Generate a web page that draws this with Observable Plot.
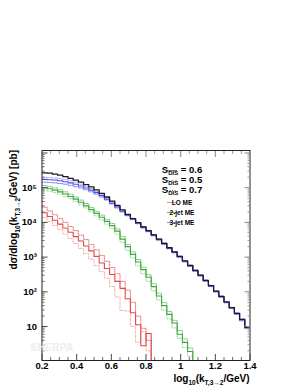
<!DOCTYPE html>
<html><head><meta charset="utf-8">
<script src="https://cdn.jsdelivr.net/npm/d3@7"></script>
<script src="https://cdn.jsdelivr.net/npm/@observablehq/plot@0.6"></script>
<style>body{margin:0;background:#fff} svg{font-family:"Liberation Sans",Arial,sans-serif}</style>
</head><body><div id="chart"></div>
<script>
// bin edges of log10(kT,3->2/GeV)
const binEdges = [0.20,0.23,0.26,0.29,0.32,0.35,0.38,0.41,0.44,0.47,0.50,0.53,0.56,0.59,0.62,0.65,0.68,0.71,0.74,0.77,0.80,0.83,0.86,0.89,0.92,0.95,0.98,1.01,1.04,1.07,1.10,1.13,1.16,1.19,1.22,1.25,1.28,1.31,1.34,1.37,1.40];

// total (S_DIS = 0.6), pb
const total = [2.69e5,2.63e5,2.45e5,2.29e5,2.09e5,1.86e5,1.66e5,1.45e5,1.23e5,1.05e5,8.7e4,6.9e4,5.4e4,4.1e4,3.1e4,2.3e4,1.7e4,1.29e4,9.8e3,7.4e3,5.8e3,4.4e3,3.3e3,2.5e3,1.86e3,1.41e3,1.05e3,780,575,417,302,214,151,105,74,51,35,24,16,9.5];

// 3-jet ME
const jet3_s06 = [1.74e5,1.70e5,1.66e5,1.58e5,1.48e5,1.38e5,1.26e5,1.12e5,9.8e4,8.5e4,7.2e4,5.9e4,4.7e4,3.6e4,2.8e4,2.1e4,1.62e4,1.26e4,9.5e3,7.2e3,5.6e3,4.3e3,3.2e3,2.45e3,1.82e3,1.38e3,1.02e3,760,560,407,295,209,148,102,72,50,34.7,23.4,15.5,9.3];
const jet3_s05 = [2.0e5,1.95e5,1.91e5,1.82e5,1.70e5,1.58e5,1.45e5,1.26e5,1.10e5,9.5e4,7.9e4,6.5e4,5.1e4,4.0e4,3.0e4,2.3e4,1.7e4,1.32e4,1.0e4,7.6e3,5.9e3,4.5e3,3.4e3,2.6e3,1.9e3,1.45e3,1.07e3,794,589,427,309,219,155,107,76,52,36,25,16.6,10];
const jet3_s07 = [1.45e5,1.41e5,1.38e5,1.32e5,1.26e5,1.17e5,1.07e5,9.8e4,8.7e4,7.6e4,6.5e4,5.4e4,4.4e4,3.4e4,2.6e4,2.0e4,1.55e4,1.2e4,9.1e3,6.9e3,5.4e3,4.1e3,3.1e3,2.3e3,1.74e3,1.32e3,980,724,537,389,282,200,141,98,69,48,33,22.4,14.5,8.7];

// 2-jet ME
const jet2_s06 = [1.0e5,9.3e4,8.5e4,7.6e4,6.6e4,5.6e4,4.7e4,3.8e4,3.0e4,2.34e4,1.82e4,1.41e4,1.07e4,8.1e3,5.6e3,3.3e3,2.0e3,1.2e3,724,437,263,141,76,40,22.4,12.6,6.0,3.5,1.9,0];
const jet2_s05 = [8.5e4,7.9e4,7.2e4,6.5e4,5.6e4,4.8e4,4.0e4,3.2e4,2.6e4,2.0e4,1.55e4,1.17e4,8.9e3,6.6e3,4.6e3,2.7e3,1.58e3,955,562,331,200,107,58,30,16.6,9.1,4.6,2.5,1.4,0];
const jet2_s07 = [1.15e5,1.07e5,9.8e4,8.7e4,7.6e4,6.5e4,5.4e4,4.4e4,3.5e4,2.7e4,2.1e4,1.62e4,1.23e4,9.3e3,6.5e3,3.9e3,2.3e3,1.41e3,851,513,309,170,91,49,27,15.1,7.6,4.4,2.4,0];

// LO ME
const lo_s06 = [1.9e4,1.48e4,1.15e4,8.9e3,6.9e3,5.2e3,3.9e3,2.9e3,2.1e3,1.51e3,1.05e3,676,468,316,200,126,63,25,11.2,2.8,6.3,0];
const lo_s05 = [1.38e4,1.07e4,8.1e3,6.2e3,4.6e3,3.4e3,2.45e3,1.78e3,1.26e3,871,575,380,251,141,71,29,28,10,3.5,7.1,2.0,0];
const lo_s07 = [2.75e4,2.14e4,1.66e4,1.29e4,1.0e4,7.6e3,5.8e3,4.3e3,3.2e3,2.3e3,1.62e3,1.12e3,759,501,331,200,112,50,20,8.9,4.0,0];

// ticks
const xTicks = [0.2,0.4,0.6,0.8,1.0,1.2,1.4];
const xTickLabels = ["0.2","0.4","0.6","0.8","1","1.2","1.4"];
const xMinorTicks = [0.25,0.3,0.35,0.45,0.5,0.55,0.65,0.7,0.75,0.85,0.9,0.95,1.05,1.1,1.15,1.25,1.3,1.35];
const yTicks = [10,100,1000,10000,100000,1000000];
const yTickLabels = ["10","10²","10³","10⁴","10⁵",""];
const yDecades = [1,10,100,1000,10000,100000];
const yMinorTicks = yDecades.flatMap(d => [2,3,4,5,6,7,8,9].map(m => m*d));

// legend
const legendText = [["S","DIS"," = 0.6"],["S","DIS"," = 0.5"],["S","DIS"," = 0.7"],["LO ME"],["2-jet ME"],["3-jet ME"]];

const EMPTY = 0.01; // empty bins fall below the frame and are clipped
function steps(vals) {
  const pts = vals.map((v, i) => ({x: binEdges[i], y: v > 0 ? v : EMPTY}));
  pts.push({x: binEdges[vals.length], y: pts[pts.length - 1].y});
  return pts;
}
function hist(vals, opts) {
  return Plot.line(steps(vals), {x: "x", y: "y", curve: "step-after", clip: true, ...opts});
}

const font = '"Liberation Sans", Arial, sans-serif';
const fmtX = d => xTickLabels[xTicks.findIndex(t => Math.abs(t - d) < 1e-9)];
const fmtY = d => { const i = yTicks.findIndex(t => Math.abs(t - d) / t < 1e-6); return i < 0 ? "" : yTickLabels[i]; };

const plot = Plot.plot({
  width: 300, height: 388,
  marginTop: 150, marginBottom: 28, marginLeft: 41.5, marginRight: 50.5,
  x: {domain: [0.2, 1.4]},
  y: {type: "log", domain: [1.05, 1.18e6]},
  style: {fontFamily: font, fontSize: "9.5px", fontWeight: "bold", color: "#000", background: "#fff"},
  marks: [
    // LO ME
    hist(lo_s05, {stroke: "#f6b4b4", strokeWidth: 1, strokeDasharray: "3,1.5"}),
    hist(lo_s07, {stroke: "#e67878", strokeWidth: 1, strokeDasharray: "1.2,1.2"}),
    hist(lo_s06, {stroke: "#e04848", strokeWidth: 1.1}),
    // 2-jet ME
    hist(jet2_s05, {stroke: "#a8dca8", strokeWidth: 1, strokeDasharray: "3,1.5"}),
    hist(jet2_s07, {stroke: "#78c478", strokeWidth: 1, strokeDasharray: "1.2,1.2"}),
    hist(jet2_s06, {stroke: "#3aa83a", strokeWidth: 1.1}),
    // 3-jet ME
    hist(jet3_s05, {stroke: "#a8a8ff", strokeWidth: 1, strokeDasharray: "3,1.5"}),
    hist(jet3_s07, {stroke: "#7878f0", strokeWidth: 1, strokeDasharray: "1.2,1.2"}),
    hist(jet3_s06, {stroke: "#5050e0", strokeWidth: 1.1}),
    // total
    hist(total, {stroke: "#1a1a2a", strokeWidth: 1.3}),
    Plot.frame({stroke: "#222", strokeWidth: 1}),
    Plot.axisX({anchor: "bottom", ticks: xTicks, tickSize: -6, tickPadding: 8, tickFormat: fmtX, label: null, stroke: "#444"}),
    Plot.axisX({anchor: "bottom", ticks: xMinorTicks, tickSize: -3, tickFormat: () => "", label: null, stroke: "#666"}),
    Plot.axisX({anchor: "top", ticks: xTicks, tickSize: -6, tickFormat: () => "", label: null, stroke: "#888"}),
    Plot.axisX({anchor: "top", ticks: xMinorTicks, tickSize: -3, tickFormat: () => "", label: null, stroke: "#999"}),
    Plot.axisY({anchor: "left", ticks: yTicks, tickSize: -6, tickPadding: 11, tickFormat: fmtY, label: null, stroke: "#444"}),
    Plot.axisY({anchor: "left", ticks: yMinorTicks, tickSize: -3, tickFormat: () => "", label: null, stroke: "#666"}),
    Plot.axisY({anchor: "right", ticks: yTicks, tickSize: -6, tickFormat: () => "", label: null, stroke: "#888"}),
    Plot.axisY({anchor: "right", ticks: yMinorTicks, tickSize: -3, tickFormat: () => "", label: null, stroke: "#999"})
  ]
});
document.getElementById("chart").appendChild(plot);

const svg = d3.select(plot);

// watermark
svg.append("text").attr("x", 52).attr("y", 351).attr("font-size", 10).attr("font-weight", "bold")
  .attr("fill", "#ececec").attr("letter-spacing", 0.4).text("SHERPA");

// x axis title
const xl = svg.append("text").attr("x", 249.5).attr("y", 382).attr("text-anchor", "end")
  .attr("font-size", 10).attr("font-weight", "bold").attr("fill", "#000");
xl.append("tspan").text("log");
xl.append("tspan").attr("dy", 2.5).attr("font-size", 6.5).text("10");
xl.append("tspan").attr("dy", -2.5).text("(k");
xl.append("tspan").attr("dy", 2.5).attr("font-size", 6.5).text("T,3\u21922");
xl.append("tspan").attr("dy", -2.5).text("/GeV)");

// y axis title
const yl = svg.append("text").attr("transform", "translate(17,150) rotate(-90)").attr("text-anchor", "end")
  .attr("font-size", 10).attr("font-weight", "bold").attr("fill", "#000");
yl.append("tspan").text("d\u03c3/dlog");
yl.append("tspan").attr("dy", 2.5).attr("font-size", 6.5).text("10");
yl.append("tspan").attr("dy", -2.5).text("(k");
yl.append("tspan").attr("dy", 2.5).attr("font-size", 6.5).text("T,3\u21922");
yl.append("tspan").attr("dy", -2.5).text("/GeV) [pb]");

// legend
const legendStyles = [
  {stroke: "#777", dash: null, w: 1},
  {stroke: "#bbb", dash: "2.5,1.5", w: 1},
  {stroke: "#555", dash: "1,1.5", w: 1},
  {stroke: "#f08888", dash: null, w: 1},
  {stroke: "#5cb85c", dash: null, w: 1},
  {stroke: "#8888ff", dash: null, w: 1}
];
const legendRowY = [170.5, 180.5, 190.5, 202.5, 212.5, 222.5];
legendText.forEach((t, i) => {
  const s = legendStyles[i], y = legendRowY[i];
  svg.append("line").attr("x1", 167).attr("x2", 177).attr("y1", y).attr("y2", y)
    .attr("stroke", s.stroke).attr("stroke-width", s.w).attr("stroke-dasharray", s.dash);
  const big = t.length === 3;
  const tx = svg.append("text").attr("x", 182).attr("y", y + (big ? 2.3 : 2.2))
    .attr("font-size", big ? 9.5 : 6.5).attr("font-weight", "bold").attr("fill", "#000");
  tx.append("tspan").text(t[0]);
  if (big) {
    tx.append("tspan").attr("dy", 2).attr("font-size", 6).text(t[1]);
    tx.append("tspan").attr("dy", -2).text(t[2]);
  }
});
</script>
</body></html>
